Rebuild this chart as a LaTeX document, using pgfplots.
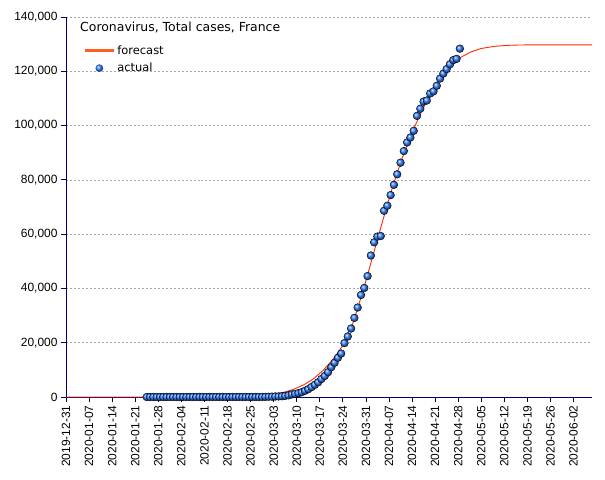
\documentclass[border=0pt]{standalone}
\usepackage{fontspec}
\setmainfont{DejaVu Sans}
\newfontfamily\tickfont{Liberation Sans}
\usepackage{pgfplots}
\usepackage{pgfplotstable}
\pgfplotsset{compat=1.18}

\definecolor{axisblue}{RGB}{0,0,100}
\definecolor{fcline}{RGB}{255,40,0}
\definecolor{fclegend}{RGB}{255,95,30}
\definecolor{ballblue}{RGB}{45,125,255}

% actual: x = days since 2019-12-31
\pgfplotstableread{
x y
24.5 0
25.5 3
26.5 3
27.5 3
28.5 3
29.5 4
30.5 5
31.5 5
32.5 5
33.5 6
34.5 6
35.5 6
36.5 6
37.5 6
38.5 6
39.5 6
40.5 11
41.5 11
42.5 11
43.5 11
44.5 11
45.5 11
46.5 11
47.5 12
48.5 12
49.5 12
50.5 12
51.5 12
52.5 12
53.5 12
54.5 12
55.5 12
56.5 12
57.5 12
58.5 18
59.5 38
60.5 57
61.5 100
62.5 130
63.5 191
64.5 212
65.5 285
66.5 423
67.5 613
68.5 949
69.5 1126
70.5 1412
71.5 1784
72.5 2281
73.5 2876
74.5 3661
75.5 4499
76.5 5423
77.5 6633
78.5 7730
79.5 9134
80.5 10995
81.5 12612
82.5 14459
83.5 16018
84.5 19856
85.5 22302
86.5 25233
87.5 29155
88.5 32964
89.5 37575
90.5 40174
91.5 44550
92.5 52128
93.5 56989
94.5 59105
95.5 59300
96.5 68605
97.5 70478
98.5 74390
99.5 78167
100.5 82048
101.5 86334
102.5 90600
103.5 93790
104.5 95600
105.5 98076
106.5 103573
107.5 106206
108.5 108847
109.5 109252
110.5 111821
111.5 112606
112.5 114657
113.5 117324
114.5 119151
115.5 120804
116.5 122577
117.5 124114
118.5 124575
119.5 128339
}\actual

\pgfplotstableread{
x y
0 0
40 10
50 80
55 200
60 550
63 1000
66 1700
69 2800
72 4400
75 6600
78 9800
81 13800
84 19000
87 27000
90 38500
93 51500
96 64500
99 77000
102 88000
105 97500
108 105500
111 112500
114 118000
117 122200
120 125300
123 127200
126 128400
130 129200
134 129550
138 129700
159.6 129750
}\forecast

\begin{document}
\begin{tikzpicture}
\path[use as bounding box] (-66bp,-83bp) rectangle (539bp,397bp);
\begin{axis}[
    at={(0,0)}, anchor=south west,
    scale only axis,
    width=526bp, height=380bp,
    xmin=0, xmax=159.6,
    ymin=0, ymax=140000,
    axis lines*=left,
    axis line style={axisblue, line width=0.8pt},
    tick style={axisblue, line width=0.8pt},
    tick align=outside,
    major tick length=5bp,
    xtick={0,7,...,154},
    xticklabels={2019-12-31,2020-01-07,2020-01-14,2020-01-21,2020-01-28,2020-02-04,2020-02-11,2020-02-18,2020-02-25,2020-03-03,2020-03-10,2020-03-17,2020-03-24,2020-03-31,2020-04-07,2020-04-14,2020-04-21,2020-04-28,2020-05-05,2020-05-12,2020-05-19,2020-05-26,2020-06-02},
    xticklabel style={rotate=90, anchor=east, font=\tickfont\fontsize{12}{12}\selectfont},
    ytick={0,20000,40000,60000,80000,100000,120000,140000},
    yticklabels={0,{20,000},{40,000},{60,000},{80,000},{100,000},{120,000},{140,000}},
    scaled y ticks=false,
    yticklabel style={font=\tickfont\fontsize{12}{12}\selectfont},
    ymajorgrids,
    grid style={gray!70, line width=0.5pt, dash pattern=on 2pt off 2pt},
    clip=false,
    legend style={at={(0.027,0.935)}, anchor=north west, draw=none, fill=none,
        font=\fontsize{11.5}{13}\selectfont, row sep=3bp},
    legend cell align=left,
]
\addplot[fcline, line width=0.9pt, forget plot] table[x=x, y=y] {\forecast};
\addplot[only marks, mark=ball, mark size=3.9pt, ball color=ballblue, forget plot]
    table[x=x, y=y] {\actual};
\addlegendimage{legend image code/.code={\draw[fclegend, line width=3pt] (0bp,0bp) -- (29bp,0bp);}}
\addlegendentry{forecast}
\addlegendimage{legend image code/.code={\path[draw=none] (0bp,0bp) -- (29bp,0bp);
        \path[draw=none, ball color=ballblue] (14.5bp,0bp) circle[radius=3.9pt];}}
\addlegendentry{actual}
\node[anchor=base west, inner sep=0pt, font=\fontsize{12.5}{14}\selectfont] at (rel axis cs:0.0266,0.963) {Coronavirus, Total cases, France};
\end{axis}
\end{tikzpicture}
\end{document}
